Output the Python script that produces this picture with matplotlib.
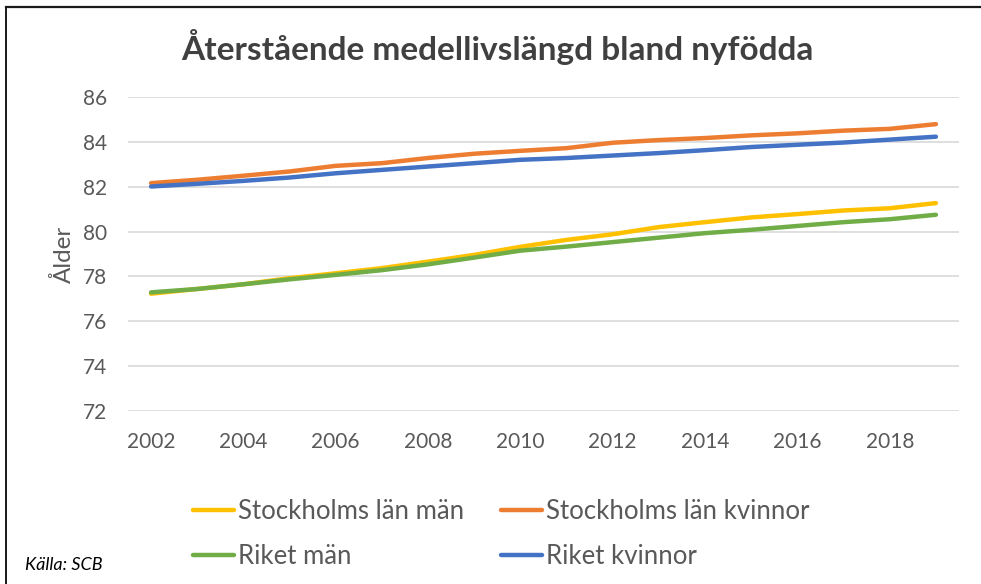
import matplotlib
matplotlib.use("Agg")
import matplotlib.pyplot as plt
from matplotlib.lines import Line2D

plt.rcParams["font.family"] = ["Lato", "DejaVu Sans"]

years = list(range(2002, 2020))
sthlm_man = [77.23, 77.44, 77.65, 77.92, 78.14, 78.37, 78.66, 78.96, 79.32,
             79.63, 79.88, 80.20, 80.42, 80.63, 80.78, 80.94, 81.04, 81.27]
sthlm_kvinnor = [82.16, 82.31, 82.49, 82.68, 82.93, 83.05, 83.28, 83.47, 83.60,
                 83.72, 83.96, 84.08, 84.17, 84.29, 84.38, 84.50, 84.58, 84.79]
riket_man = [77.29, 77.44, 77.65, 77.87, 78.07, 78.28, 78.54, 78.84, 79.15,
             79.33, 79.53, 79.73, 79.93, 80.08, 80.25, 80.42, 80.55, 80.75]
riket_kvinnor = [82.01, 82.13, 82.26, 82.41, 82.60, 82.75, 82.90, 83.05, 83.20,
                 83.28, 83.39, 83.50, 83.63, 83.77, 83.87, 83.97, 84.10, 84.23]

series = [
    ("Stockholms län män", sthlm_man, "#FFC000"),
    ("Stockholms län kvinnor", sthlm_kvinnor, "#ED7D31"),
    ("Riket män", riket_man, "#70AD47"),
    ("Riket kvinnor", riket_kvinnor, "#4472C4"),
]

GREY = "#595959"

fig = plt.figure(figsize=(9.81, 5.84), dpi=100)
ax = fig.add_axes([128 / 981, 1 - 411 / 584, 831 / 981, 314 / 584])

x = list(range(len(years)))
handles = {}
for name, vals, col in series:
    (h,) = ax.plot(x, vals, color=col, lw=3.2, solid_capstyle="round",
                   solid_joinstyle="round", label=name)
    handles[name] = h

ax.set_xlim(-0.5, len(years) - 0.5)
ax.set_ylim(72, 86)
ax.set_yticks(range(72, 87, 2))
ax.set_xticks(x[::2])
ax.set_xticklabels([str(y) for y in years[::2]])
ax.grid(axis="y", color="#D9D9D9", lw=1.2)
ax.set_axisbelow(True)
for s in ax.spines.values():
    s.set_visible(False)
ax.tick_params(axis="both", length=0, labelsize=15, labelcolor=GREY)
ax.tick_params(axis="x", pad=15)
ax.tick_params(axis="y", pad=15)
ax.set_ylabel("Ålder", fontsize=17.5, color=GREY, labelpad=6)

fig.text(497 / 981, 1 - 47 / 584, "Återstående medellivslängd bland nyfödda",
         ha="center", va="center", fontsize=24, fontweight="bold", color="#404040")

order = ["Stockholms län män", "Riket män", "Stockholms län kvinnor", "Riket kvinnor"]
fig.legend([handles[n] for n in order], order, ncol=2, frameon=False,
           loc="center", bbox_to_anchor=(501 / 981, 1 - 534 / 584),
           fontsize=18.5, labelcolor=GREY, handlelength=1.6, handletextpad=0.15,
           columnspacing=1.45, labelspacing=0.8)

fig.text(25 / 981, 1 - 565 / 584, "Källa: SCB", fontsize=13, style="italic",
         color="#000000", va="center", ha="left")

# frame from the screenshot (top and left edges)
fig.add_artist(Line2D([6 / 981, 1], [1 - 7 / 584, 1 - 7 / 584], color="#1a1a1a", lw=1.6,
                      transform=fig.transFigure))
fig.add_artist(Line2D([6 / 981, 6 / 981], [0, 1 - 7 / 584], color="#1a1a1a", lw=1.4,
                      transform=fig.transFigure))

fig.savefig("out.png", dpi=100)
